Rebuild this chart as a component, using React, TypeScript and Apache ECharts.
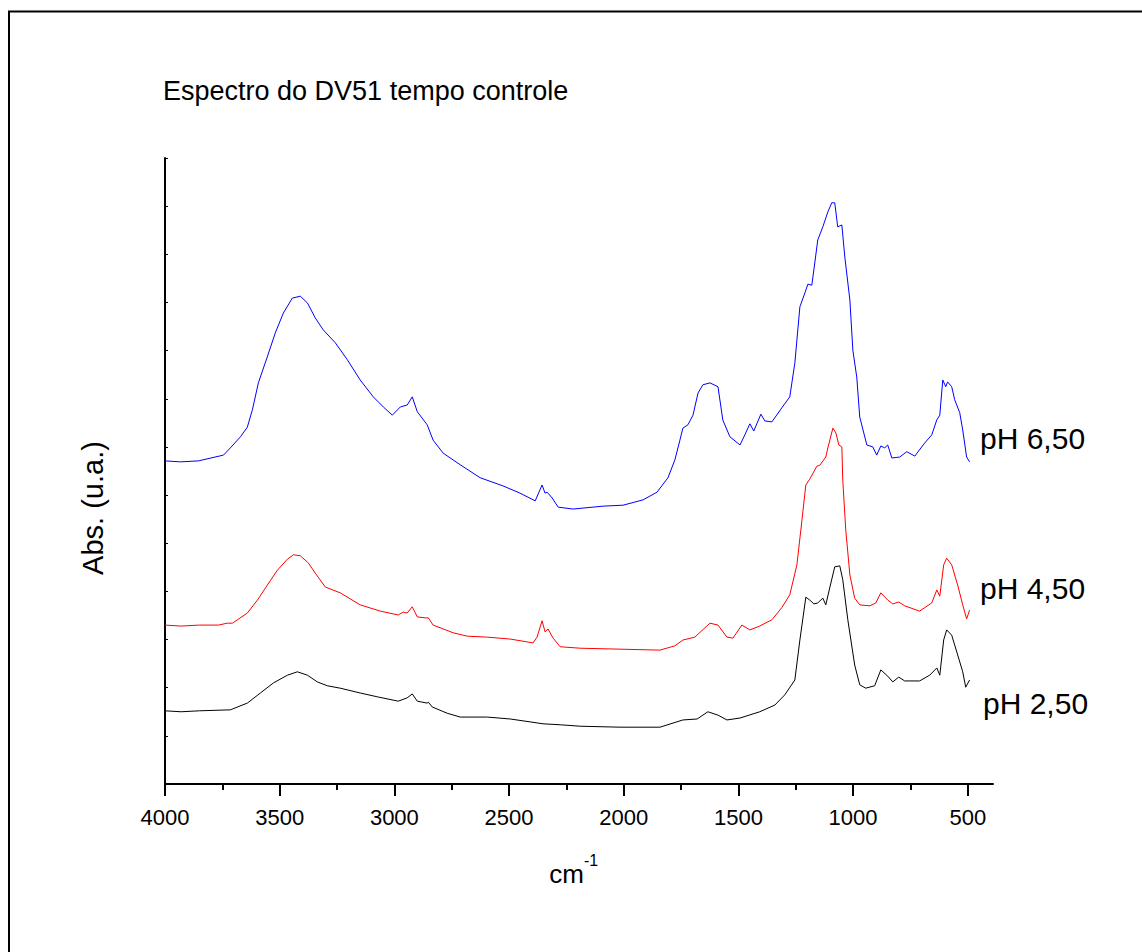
import React, { useEffect, useRef } from "react";
import * as echarts from "echarts";

// [wavenumber (cm-1), absorbance (u.a.)]
const ph650: [number, number][] = [
  [4000, 0.671], [3932, 0.669], [3854, 0.671], [3745, 0.683], [3715, 0.698], [3671, 0.721],
  [3641, 0.741], [3619, 0.777], [3593, 0.833], [3554, 0.887], [3519, 0.937], [3484, 0.978],
  [3445, 1.009], [3410, 1.013], [3379, 0.999], [3345, 0.968], [3310, 0.943], [3257, 0.916],
  [3205, 0.881], [3149, 0.839], [3092, 0.804], [3048, 0.783], [3009, 0.766], [2974, 0.783],
  [2944, 0.787], [2922, 0.804], [2900, 0.773], [2857, 0.746], [2831, 0.714], [2787, 0.687],
  [2713, 0.663], [2626, 0.636], [2526, 0.619], [2452, 0.604], [2386, 0.588], [2356, 0.621],
  [2343, 0.604], [2334, 0.606], [2312, 0.594], [2286, 0.575], [2221, 0.571], [2090, 0.577],
  [2003, 0.579], [1916, 0.590], [1855, 0.606], [1807, 0.636], [1777, 0.673], [1755, 0.714],
  [1742, 0.739], [1720, 0.746], [1698, 0.766], [1676, 0.812], [1655, 0.829], [1624, 0.833],
  [1589, 0.825], [1568, 0.756], [1537, 0.721], [1493, 0.704], [1472, 0.725], [1450, 0.748],
  [1433, 0.733], [1402, 0.768], [1385, 0.754], [1354, 0.752], [1311, 0.781], [1276, 0.804],
  [1254, 0.874], [1232, 0.991], [1210, 1.020], [1197, 1.038], [1180, 1.036], [1167, 1.082],
  [1154, 1.130], [1132, 1.157], [1110, 1.188], [1093, 1.207], [1080, 1.207], [1067, 1.157],
  [1049, 1.161], [1036, 1.094], [1014, 1.005], [1001, 0.901], [984, 0.845], [971, 0.762],
  [940, 0.704], [914, 0.700], [897, 0.683], [879, 0.702], [862, 0.698], [849, 0.704],
  [831, 0.677], [797, 0.679], [766, 0.690], [731, 0.681], [688, 0.708], [657, 0.725],
  [635, 0.756], [622, 0.766], [609, 0.839], [596, 0.825], [588, 0.835], [570, 0.825],
  [557, 0.798], [535, 0.771], [522, 0.735], [505, 0.679], [492, 0.669],
];

const ph450: [number, number][] = [
  [4000, 0.330], [3930, 0.328], [3850, 0.330], [3767, 0.330], [3728, 0.334], [3706, 0.334],
  [3641, 0.355], [3597, 0.382], [3554, 0.413], [3510, 0.444], [3466, 0.467], [3440, 0.476],
  [3410, 0.474], [3375, 0.459], [3345, 0.438], [3301, 0.409], [3236, 0.397], [3149, 0.372],
  [3061, 0.359], [2983, 0.351], [2961, 0.357], [2944, 0.355], [2922, 0.368], [2900, 0.347],
  [2865, 0.345], [2852, 0.345], [2831, 0.330], [2743, 0.314], [2682, 0.307], [2595, 0.305],
  [2495, 0.301], [2395, 0.293], [2378, 0.305], [2356, 0.339], [2343, 0.316], [2330, 0.322],
  [2308, 0.303], [2277, 0.285], [2190, 0.282], [2016, 0.280], [1842, 0.278], [1777, 0.287],
  [1742, 0.299], [1690, 0.305], [1624, 0.334], [1589, 0.330], [1550, 0.305], [1524, 0.303],
  [1485, 0.330], [1450, 0.320], [1407, 0.328], [1354, 0.341], [1311, 0.366], [1276, 0.393],
  [1245, 0.455], [1223, 0.548], [1206, 0.621], [1189, 0.633], [1158, 0.660], [1145, 0.662],
  [1119, 0.679], [1110, 0.698], [1088, 0.739], [1075, 0.729], [1062, 0.704], [1049, 0.700],
  [1045, 0.631], [1032, 0.528], [1014, 0.434], [993, 0.386], [971, 0.372], [927, 0.370],
  [901, 0.376], [879, 0.397], [849, 0.382], [827, 0.374], [801, 0.378], [775, 0.370],
  [710, 0.359], [657, 0.376], [635, 0.403], [622, 0.390], [605, 0.455], [592, 0.469],
  [570, 0.455], [544, 0.413], [522, 0.372], [505, 0.343], [492, 0.361],
];

const ph250: [number, number][] = [
  [4000, 0.152], [3930, 0.150], [3850, 0.152], [3715, 0.154], [3641, 0.168], [3584, 0.189],
  [3527, 0.210], [3466, 0.226], [3423, 0.233], [3379, 0.226], [3336, 0.212], [3292, 0.204],
  [3236, 0.199], [3149, 0.189], [3074, 0.181], [2983, 0.172], [2944, 0.179], [2922, 0.187],
  [2900, 0.172], [2857, 0.168], [2852, 0.170], [2835, 0.160], [2770, 0.147], [2713, 0.139],
  [2595, 0.139], [2495, 0.135], [2408, 0.129], [2352, 0.125], [2277, 0.123], [2190, 0.120],
  [2016, 0.118], [1842, 0.118], [1742, 0.133], [1680, 0.135], [1633, 0.150], [1589, 0.143],
  [1550, 0.133], [1493, 0.137], [1407, 0.150], [1341, 0.164], [1298, 0.185], [1254, 0.216],
  [1232, 0.299], [1206, 0.388], [1189, 0.382], [1171, 0.374], [1154, 0.376], [1132, 0.386],
  [1119, 0.372], [1102, 0.407], [1080, 0.451], [1058, 0.453], [1045, 0.424], [1023, 0.341],
  [993, 0.247], [971, 0.206], [945, 0.199], [906, 0.204], [879, 0.237], [849, 0.224],
  [827, 0.212], [801, 0.222], [775, 0.214], [710, 0.214], [666, 0.226], [635, 0.241],
  [622, 0.226], [605, 0.299], [592, 0.320], [570, 0.309], [544, 0.268], [522, 0.233],
  [509, 0.201], [492, 0.216],
];

const majorTicks = [4000, 3500, 3000, 2500, 2000, 1500, 1000, 500];
const minorTicks = [3750, 3250, 2750, 2250, 1750, 1250, 750];

const seriesNames = ["pH 6,50", "pH 4,50", "pH 2,50"];
const seriesColors = ["#0000ff", "#ff0000", "#000000"];

const FONT = "'Liberation Sans', Arial, sans-serif";

export default function App() {
  const ref = useRef<HTMLDivElement>(null);
  useEffect(() => {
    const chart = echarts.init(ref.current!, null, { renderer: "svg" });
    const datasets = [ph650, ph450, ph250];
    const xMin = 390;
    const xMax = 4000;
    chart.setOption({
      animation: false,
      backgroundColor: "#ffffff",
      grid: { left: 165, right: 149, top: 158, bottom: 168, containLabel: false },
      xAxis: [
        {
          type: "value",
          min: xMin,
          max: xMax,
          inverse: true,
          position: "bottom",
          axisLine: { show: true, onZero: false, lineStyle: { color: "#000", width: 2 } },
          axisTick: { show: true, inside: false, length: 12, customValues: majorTicks, lineStyle: { color: "#000", width: 2 } },
          axisLabel: {
            show: true,
            customValues: majorTicks,
            formatter: (v: number) => String(v),
            margin: 22,
            color: "#000",
            fontSize: 22,
            fontFamily: FONT,
          },
          splitLine: { show: false },
        },
        {
          type: "value",
          min: xMin,
          max: xMax,
          inverse: true,
          position: "bottom",
          axisLine: { show: false },
          axisTick: { show: true, inside: false, length: 6, customValues: minorTicks, lineStyle: { color: "#000", width: 2 } },
          axisLabel: { show: false },
          splitLine: { show: false },
        },
      ],
      yAxis: {
        type: "value",
        min: 0,
        max: 1.3,
        interval: 0.1,
        axisLine: { show: true, onZero: false, lineStyle: { color: "#000", width: 2 } },
        axisTick: { show: true, inside: true, length: 3, lineStyle: { color: "#000", width: 1 } },
        axisLabel: { show: false },
        splitLine: { show: false },
      },
      series: datasets.map((d, i) => ({
        name: seriesNames[i],
        type: "line",
        data: d,
        xAxisIndex: 0,
        symbol: "none",
        showSymbol: false,
        lineStyle: { color: seriesColors[i], width: 1 },
        itemStyle: { color: seriesColors[i] },
        z: 3 - i,
      })),
      graphic: [
        {
          type: "rect",
          shape: { x: 9, y: 11.5, width: 1200, height: 1000 },
          style: { fill: "none", stroke: "#000", lineWidth: 2 },
          silent: true,
        },
        {
          type: "text",
          style: { text: "Espectro do DV51 tempo controle", x: 163, y: 91, fontSize: 27, fontFamily: FONT, fill: "#000", align: "left", verticalAlign: "middle" },
        },
        {
          type: "text",
          x: 93,
          y: 508,
          rotation: Math.PI / 2,
          style: { text: "Abs. (u.a.)", x: 0, y: 0, fontSize: 29, fontFamily: FONT, fill: "#000", align: "center", verticalAlign: "middle" },
        },
        {
          type: "text",
          style: { text: "cm", x: 584, y: 874, fontSize: 26, fontFamily: FONT, fill: "#000", align: "right", verticalAlign: "middle" },
        },
        {
          type: "text",
          style: { text: "-1", x: 584, y: 860, fontSize: 16, fontFamily: FONT, fill: "#000", align: "left", verticalAlign: "middle" },
        },
        {
          type: "text",
          style: { text: seriesNames[0], x: 980, y: 438, fontSize: 30, fontFamily: FONT, fill: "#000", align: "left", verticalAlign: "middle" },
        },
        {
          type: "text",
          style: { text: seriesNames[1], x: 980, y: 588, fontSize: 30, fontFamily: FONT, fill: "#000", align: "left", verticalAlign: "middle" },
        },
        {
          type: "text",
          style: { text: seriesNames[2], x: 983, y: 703, fontSize: 30, fontFamily: FONT, fill: "#000", align: "left", verticalAlign: "middle" },
        },
      ],
    });
    return () => chart.dispose();
  }, []);
  return (
    <div
      ref={ref}
      style={{ position: "fixed", left: 0, top: 0, width: 1142, height: 952, background: "#fff" }}
    />
  );
}
